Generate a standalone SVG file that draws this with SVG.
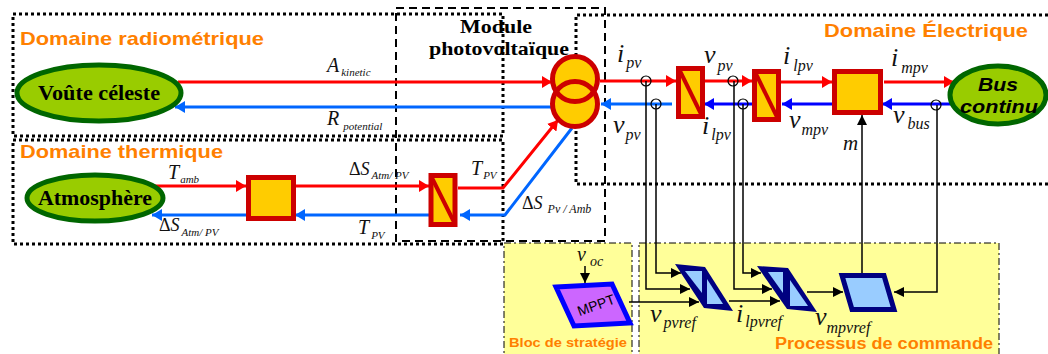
<svg xmlns="http://www.w3.org/2000/svg" width="1048" height="354" viewBox="0 0 1048 354">
<style>
.dom{fill:none;stroke:#000;stroke-width:3;stroke-dasharray:3 3}
.mod{fill:none;stroke:#000;stroke-width:2;stroke-dasharray:8 5}
.bg{fill:#ffff99;stroke:#000;stroke-width:1;stroke-dasharray:7 3 2 3}
.ell{fill:#99cc00;stroke:#006600;stroke-width:5}
.box{fill:#ffcc00;stroke:#cc0000;stroke-width:5}
.diag{fill:none;stroke:#cc0000;stroke-width:4}
.red{fill:none;stroke:#ff0000;stroke-width:3}
.blue{fill:none;stroke:#0066ff;stroke-width:3}
.dblue{fill:none;stroke:#0000ff;stroke-width:3}
.sig{fill:none;stroke:#000;stroke-width:1.5}
.tap{fill:none;stroke:#000;stroke-width:1.2}
.orange{font-family:"Liberation Sans",Arial,sans-serif;font-weight:bold;fill:#ff8000}
.nm{font-family:"Liberation Serif","Times New Roman",serif;font-weight:bold;fill:#000}
.v{font-family:"Liberation Serif","Times New Roman",serif;font-style:italic;fill:#111}
.s{font-size:11px}
.d{font-style:normal}
.navy{fill:#000080}
.lb{fill:#99ccff}
</style>
<defs>
<marker id="ar" markerUnits="userSpaceOnUse" markerWidth="10" markerHeight="12" refX="10" refY="6" orient="auto"><path d="M0 0L10 6L0 12Z" fill="#ff0000"/></marker>
<marker id="ab" markerUnits="userSpaceOnUse" markerWidth="10" markerHeight="12" refX="10" refY="6" orient="auto"><path d="M0 0L10 6L0 12Z" fill="#0066ff"/></marker>
<marker id="ad" markerUnits="userSpaceOnUse" markerWidth="10" markerHeight="12" refX="10" refY="6" orient="auto"><path d="M0 0L10 6L0 12Z" fill="#0000ff"/></marker>
<marker id="ak" markerUnits="userSpaceOnUse" markerWidth="10" markerHeight="10" refX="10" refY="5" orient="auto"><path d="M0 0L10 5L0 10Z" fill="#000"/></marker>
</defs>
<g id="zones">
<rect class="bg" x="504" y="243" width="128" height="112"/>
<rect class="bg" x="639" y="243" width="360" height="112"/>
<rect class="dom" x="13" y="14" width="490" height="122"/>
<rect class="dom" x="13" y="140" width="490" height="104"/>
<path class="dom" d="M1048 15H576V184H1048"/>
<rect class="mod" x="396" y="8" width="209" height="233"/>
</g>
<g id="connectors">
<path class="red" d="M178 82H552" marker-end="url(#ar)"/>
<path class="blue" d="M552 107H175" marker-end="url(#ab)"/>
<path class="red" d="M600 81H676" marker-end="url(#ar)"/>
<path class="blue" d="M672 104H601" marker-end="url(#ab)"/>
<path class="red" d="M704 81H752" marker-end="url(#ar)"/>
<path class="dblue" d="M752 104H704" marker-end="url(#ad)"/>
<path class="red" d="M781 82H832" marker-end="url(#ar)"/>
<path class="dblue" d="M832 104H782" marker-end="url(#ad)"/>
<path class="red" d="M884 82H954" marker-end="url(#ar)"/>
<path class="dblue" d="M952 104H882" marker-end="url(#ad)"/>
<path class="red" d="M152 186H246" marker-end="url(#ar)"/>
<path class="blue" d="M246 215H152" marker-end="url(#ab)"/>
<path class="red" d="M296 186H429" marker-end="url(#ar)"/>
<path class="blue" d="M429 215H295" marker-end="url(#ab)"/>
<path class="red" d="M458 188H503L558 120" stroke-width="3.5" marker-end="url(#ar)"/>
<path class="blue" d="M572 128L505 215H460" stroke-width="3.5" marker-end="url(#ab)"/>
<circle class="tap" cx="646" cy="81" r="5"/>
<circle class="tap" cx="656" cy="104" r="5"/>
<circle class="tap" cx="733" cy="81" r="5"/>
<circle class="tap" cx="743" cy="104" r="5"/>
<circle class="tap" cx="936" cy="105" r="5"/>
<path class="sig" d="M646 81V289H690" marker-end="url(#ak)"/>
<path class="sig" d="M656 104V273H681" marker-end="url(#ak)"/>
<path class="sig" d="M734 81V289H772" marker-end="url(#ak)"/>
<path class="sig" d="M743 104V273H761" marker-end="url(#ak)"/>
<path class="sig" d="M629 302H699" marker-end="url(#ak)"/>
<path class="sig" d="M729 301H780" marker-end="url(#ak)"/>
<path class="sig" d="M807 292H843" marker-end="url(#ak)"/>
<path class="sig" d="M937 105V292H894" marker-end="url(#ak)"/>
<path class="sig" d="M862 274V115" marker-end="url(#ak)"/>
<path class="sig" d="M585 266V283" stroke-width="2" marker-end="url(#ak)"/>
</g>
<g id="voute"><ellipse class="ell" cx="99" cy="93" rx="82" ry="28"/><text class="nm" x="38" y="100" font-size="20" textLength="122" lengthAdjust="spacingAndGlyphs">Voûte céleste</text></g>
<g id="atmosphere"><ellipse class="ell" cx="95" cy="198" rx="68" ry="23"/><text class="nm" x="38" y="205" font-size="20" textLength="114" lengthAdjust="spacingAndGlyphs">Atmosphère</text></g>
<g id="bus"><ellipse class="ell" cx="998" cy="95" rx="48" ry="29"/><text font-family="'Liberation Sans',Arial,sans-serif" font-weight="bold" font-style="italic" font-size="19" x="978" y="91" textLength="40" lengthAdjust="spacingAndGlyphs">Bus</text><text font-family="'Liberation Sans',Arial,sans-serif" font-weight="bold" font-style="italic" font-size="19" x="960" y="113" textLength="78" lengthAdjust="spacingAndGlyphs">continu</text></g>
<g id="accum-thermique"><rect class="box" x="248.500" y="177.500" width="45" height="41"/></g>
<g id="conv-thermique"><rect class="box" x="431" y="175.500" width="24" height="49"/><path class="diag" d="M431 176L455 224"/></g>
<g id="transformateur"><circle cx="575" cy="79" r="22.500" fill="#ffcc00"/><circle cx="575" cy="104" r="22.500" fill="#ffcc00"/><circle cx="575" cy="79" r="22.500" fill="none" stroke="#cc0000" stroke-width="5"/><circle cx="575" cy="104" r="22.500" fill="none" stroke="#cc0000" stroke-width="5"/></g>
<g id="conv-1"><rect class="box" x="678.500" y="68.500" width="24" height="48"/><path class="diag" d="M679 69L702 116"/></g>
<g id="conv-2"><rect class="box" x="754.500" y="71.500" width="24" height="48"/><path class="diag" d="M755 72L778 119"/></g>
<g id="accum-elec"><rect class="box" x="834.500" y="71.500" width="46" height="41"/></g>
<g id="mppt"><polygon points="556,287 612,284 630,323 574,326" fill="#cc66ff" stroke="#0000ff" stroke-width="5"/><text x="596" y="310" font-family="'Liberation Sans',Arial,sans-serif" font-size="14" text-anchor="middle" transform="rotate(-20 596 305)">MPPT</text></g>
<g id="ctrl-1"><polygon class="navy" points="675,264 705,267 733,311 704,308"/><polygon class="lb" points="685,271 702,271 702,293"/><polygon class="lb" points="707,279 723,304 707,304"/></g>
<g id="ctrl-2"><polygon class="navy" points="757,266 788,268 817,312 787,309"/><polygon class="lb" points="768,272 783,272 783,293"/><polygon class="lb" points="790,280 808,306 790,306"/></g>
<g id="ctrl-3"><polygon points="842,275.500 884,275.500 894,309.500 852,309.500" fill="#99ccff" stroke="#000080" stroke-width="5"/></g>
<g id="labels">
<text class="orange" x="20" y="45" font-size="19" textLength="244" lengthAdjust="spacingAndGlyphs">Domaine radiométrique</text>
<text class="orange" x="20" y="158" font-size="19" textLength="203" lengthAdjust="spacingAndGlyphs">Domaine thermique</text>
<text class="orange" x="824" y="37" font-size="19" textLength="204" lengthAdjust="spacingAndGlyphs">Domaine Électrique</text>
<text class="orange" x="509" y="347" font-size="13" textLength="118" lengthAdjust="spacingAndGlyphs">Bloc de stratégie</text>
<text class="orange" x="775" y="349" font-size="16" textLength="218" lengthAdjust="spacingAndGlyphs">Processus de commande</text>
<text class="nm" x="460" y="33" font-size="19" textLength="72" lengthAdjust="spacingAndGlyphs">Module</text>
<text class="nm" x="429" y="55" font-size="19" textLength="140" lengthAdjust="spacingAndGlyphs">photovoltaïque</text>
<text class="v" x="327" y="72" font-size="20">A<tspan class="s" dx="2" dy="4">kinetic</tspan></text>
<text class="v" x="327" y="125" font-size="20">R<tspan class="s" dx="4" dy="5">potential</tspan></text>
<text class="v" x="168" y="179" font-size="20">T<tspan class="s" dx="1" dy="4">amb</tspan></text>
<text class="v" x="159" y="231" font-size="18"><tspan class="d">Δ</tspan>S<tspan class="s" dx="2" dy="5">Atm/ PV</tspan></text>
<text class="v" x="349" y="175" font-size="18"><tspan class="d">Δ</tspan>S<tspan class="s" dx="2" dy="4">Atm/ PV</tspan></text>
<text class="v" x="358" y="234" font-size="20">T<tspan class="s" dx="2" dy="5">PV</tspan></text>
<text class="v" x="471" y="175" font-size="20">T<tspan class="s" dx="1" dy="4">PV</tspan></text>
<text class="v" x="522" y="209" font-size="18"><tspan class="d">Δ</tspan>S<tspan font-size="12" dx="5" dy="4">Pv / Amb</tspan></text>
<text class="v" x="617" y="62" font-size="26">i<tspan font-size="16" dx="2" dy="6">pv</tspan></text>
<text class="v" x="613" y="133" font-size="26">v<tspan font-size="16" dx="1" dy="7">pv</tspan></text>
<text class="v" x="704" y="63" font-size="26">v<tspan font-size="16" dx="2" dy="8">pv</tspan></text>
<text class="v" x="702" y="134" font-size="26">i<tspan font-size="16" dx="2" dy="6">lpv</tspan></text>
<text class="v" x="783" y="64" font-size="26">i<tspan font-size="16" dx="3" dy="7">lpv</tspan></text>
<text class="v" x="789" y="128" font-size="26">v<tspan font-size="16" dx="1" dy="7">mpv</tspan></text>
<text class="v" x="891" y="66" font-size="26">i<tspan font-size="16" dx="3" dy="7">mpv</tspan></text>
<text class="v" x="893" y="123" font-size="26">v<tspan font-size="16" dx="3" dy="6">bus</tspan></text>
<text class="v" x="843" y="150" font-size="21">m</text>
<text class="v" x="577" y="261" font-size="20">v<tspan font-size="14" dx="4" dy="5">oc</tspan></text>
<text class="v" x="650" y="322" font-size="26">v<tspan font-size="16" dx="2" dy="6">pvref</tspan></text>
<text class="v" x="736" y="322" font-size="26">i<tspan font-size="16" dx="2" dy="5">lpvref</tspan></text>
<text class="v" x="815" y="325" font-size="26">v<tspan font-size="16" dy="8">mpvref</tspan></text>
</g>
</svg>
